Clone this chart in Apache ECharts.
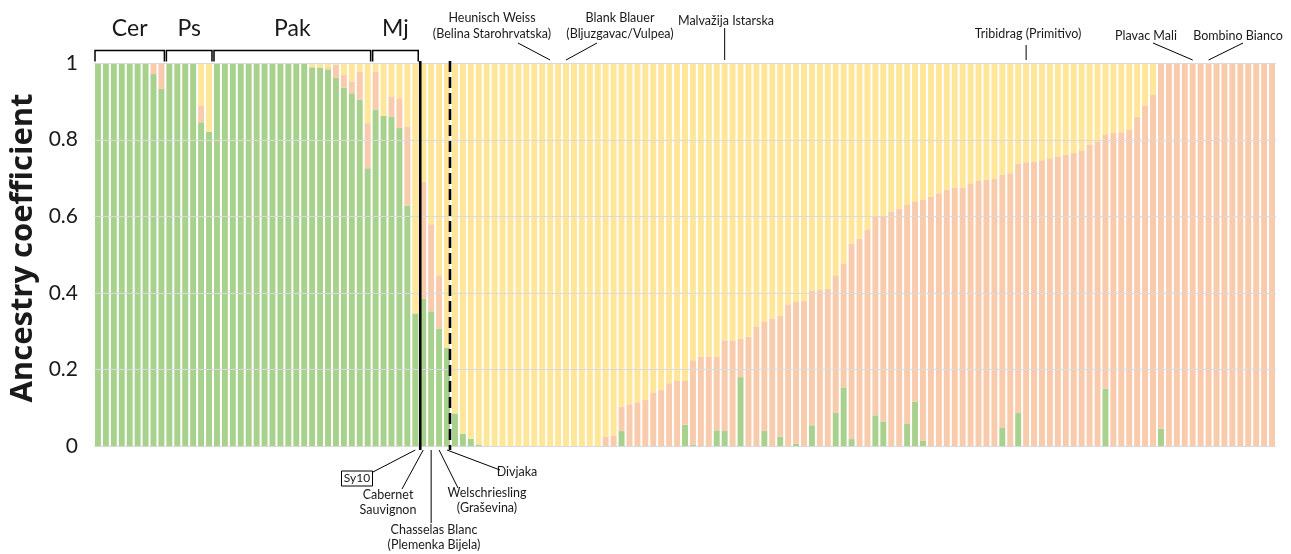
<!DOCTYPE html>
<html>
<head>
<meta charset="utf-8">
<script src="https://cdn.jsdelivr.net/npm/echarts/dist/echarts.min.js"></script>
<style>
  html, body { margin: 0; padding: 0; background: #ffffff; }
  #chart { width: 1291px; height: 554px; }
</style>
</head>
<body>
<div id="chart"></div>
<script>
// Ancestry coefficients per accession (three ancestral clusters), 149 accessions.
const greenShare = [
  1, 1, 1, 1, 1, 1, 1, 0.971, 0.932, 1,
  1, 1, 1, 0.845, 0.820, 1, 1, 1, 1, 1,
  1, 1, 1, 1, 1, 1, 1, 0.989, 0.988, 0.982,
  0.961, 0.935, 0.921, 0.904, 0.725, 0.878, 0.862, 0.860, 0.830, 0.628,
  0.346, 0.385, 0.352, 0.307, 0.256, 0.085, 0.032, 0.019, 0.004, 0,
  0, 0, 0, 0, 0, 0, 0, 0, 0, 0,
  0, 0, 0, 0, 0, 0, 0.039, 0, 0, 0,
  0, 0, 0, 0, 0.056, 0.004, 0, 0, 0.041, 0.039,
  0, 0.18, 0, 0, 0.039, 0, 0.024, 0, 0.006, 0,
  0.054, 0, 0, 0.086, 0.153, 0.018, 0, 0, 0.08, 0.064,
  0, 0, 0.059, 0.116, 0.013, 0, 0, 0, 0, 0,
  0, 0, 0, 0, 0.047, 0, 0.086, 0, 0, 0,
  0, 0, 0, 0, 0, 0, 0, 0.15, 0, 0,
  0, 0, 0, 0, 0.045, 0, 0, 0, 0, 0,
  0, 0, 0, 0, 0, 0, 0, 0, 0
];
const pinkShare = [
  0, 0, 0, 0, 0, 0, 0, 0.029, 0.068, 0,
  0, 0, 0, 0.043, 0, 0, 0, 0, 0, 0,
  0, 0, 0, 0, 0, 0, 0, 0, 0, 0.005,
  0.034, 0.034, 0.031, 0.074, 0.118, 0.100, 0, 0.053, 0.078, 0.206,
  0, 0.305, 0.227, 0.139, 0, 0, 0, 0, 0, 0,
  0, 0, 0, 0, 0, 0, 0, 0, 0, 0,
  0, 0, 0, 0, 0.024, 0.028, 0.064, 0.109, 0.114, 0.120,
  0.140, 0.146, 0.164, 0.170, 0.114, 0.220, 0.233, 0.233, 0.192, 0.237,
  0.276, 0.100, 0.285, 0.311, 0.285, 0.333, 0.316, 0.370, 0.370, 0.380,
  0.351, 0.407, 0.410, 0.360, 0.324, 0.511, 0.542, 0.564, 0.519, 0.536,
  0.612, 0.620, 0.570, 0.521, 0.629, 0.651, 0.660, 0.669, 0.675, 0.675,
  0.686, 0.692, 0.695, 0.697, 0.661, 0.712, 0.650, 0.741, 0.742, 0.746,
  0.751, 0.755, 0.760, 0.765, 0.772, 0.786, 0.796, 0.662, 0.817, 0.819,
  0.825, 0.860, 0.890, 0.917, 0.955, 1, 1, 1, 1, 1,
  1, 1, 1, 1, 1, 1, 1, 1, 1
];
const yellowShare = [
  0, 0, 0, 0, 0, 0, 0, 0, 0, 0,
  0, 0, 0, 0.112, 0.180, 0, 0, 0, 0, 0,
  0, 0, 0, 0, 0, 0, 0, 0.011, 0.012, 0.013,
  0.005, 0.031, 0.048, 0.022, 0.157, 0.022, 0.138, 0.087, 0.092, 0.166,
  0.654, 0.310, 0.421, 0.554, 0.744, 0.915, 0.968, 0.981, 0.996, 1,
  1, 1, 1, 1, 1, 1, 1, 1, 1, 1,
  1, 1, 1, 1, 0.976, 0.972, 0.897, 0.891, 0.886, 0.880,
  0.860, 0.854, 0.836, 0.830, 0.830, 0.776, 0.767, 0.767, 0.767, 0.724,
  0.724, 0.720, 0.715, 0.689, 0.676, 0.667, 0.660, 0.630, 0.624, 0.620,
  0.595, 0.593, 0.590, 0.554, 0.523, 0.471, 0.458, 0.436, 0.401, 0.400,
  0.388, 0.380, 0.371, 0.363, 0.358, 0.349, 0.340, 0.331, 0.325, 0.325,
  0.314, 0.308, 0.305, 0.303, 0.292, 0.288, 0.264, 0.259, 0.258, 0.254,
  0.249, 0.245, 0.240, 0.235, 0.228, 0.214, 0.204, 0.188, 0.183, 0.181,
  0.175, 0.140, 0.110, 0.083, 0, 0, 0, 0, 0, 0,
  0, 0, 0, 0, 0, 0, 0, 0, 0
];
const sampleIds = greenShare.map((_, i) => 'S' + (i + 1));
const yTicks = [0, 0.2, 0.4, 0.6, 0.8, 1];

// Population groups (first/last accession index)
const groups = [
  { name: 'Cer', from: 0, to: 8 },
  { name: 'Ps', from: 9, to: 14 },
  { name: 'Pak', from: 15, to: 34 },
  { name: 'Mj', from: 35, to: 40 }
];
const solidAfter = 40;
const dashedAfter = 44;

const topNotes = [
  { lines: ['Heunisch Weiss', '(Belina Starohrvatska)'], bar: 57 },
  { lines: ['Blank Blauer', '(Bljuzgavac/Vulpea)'], bar: 59 },
  { lines: ['Malvažija Istarska'], bar: 79 },
  { lines: ['Tribidrag (Primitivo)'], bar: 117 },
  { lines: ['Plavac Mali'], bar: 138 },
  { lines: ['Bombino Bianco'], bar: 140 }
];
const bottomNotes = [
  { lines: ['Sy10'], bar: 40, boxed: true },
  { lines: ['Cabernet', 'Sauvignon'], bar: 41 },
  { lines: ['Chasselas Blanc', '(Plemenka Bijela)'], bar: 42 },
  { lines: ['Welschriesling', '(Graševina)'], bar: 43 },
  { lines: ['Divjaka'], bar: 44 }
];

// Placement of note text blocks: text centre x, first-line y, leader start point
const topLayout = [
  { tx: 492, ty: 18, lx: 518, ly: 43 },
  { tx: 620, ty: 18, lx: 597, ly: 43 },
  { tx: 726, ty: 21, lx: null, ly: 28 },
  { tx: 1028, ty: 34, lx: null, ly: 45 },
  { tx: 1146, ty: 36, lx: 1153, ly: 43 },
  { tx: 1238, ty: 36, lx: 1243, ly: 43 }
];
const bottomLayout = [
  { tx: 357, ty: 478.5, lx: 373, ly: 472 },
  { tx: 388, ty: 495, lx: 402, ly: 489 },
  { tx: 434, ty: 530, lx: null, ly: 523 },
  { tx: 487, ty: 493, lx: 458, ly: 488 },
  { tx: 517, ty: 471.5, lx: 500, ly: 470 }
];

const FONT = 'Lato, "Open Sans", sans-serif';
const TITLE_FONT = '"Open Sans", "Noto Sans", sans-serif';
const colors = { green: '#a9d18e', pink: '#f8cbad', yellow: '#ffe699' };

const chart = echarts.init(document.getElementById('chart'), null, { renderer: 'canvas' });

function barSeries(name, data, color) {
  return {
    name: name,
    type: 'bar',
    stack: 'ancestry',
    data: data,
    barCategoryGap: '25%',
    itemStyle: { color: color },
    silent: true,
    animation: false
  };
}

chart.setOption({
  animation: false,
  grid: { left: 94, right: 15, top: 63, bottom: 108, containLabel: false },
  xAxis: {
    type: 'category',
    data: sampleIds,
    axisLine: { show: false },
    axisTick: { show: false },
    axisLabel: { show: false },
    splitLine: { show: false }
  },
  yAxis: {
    type: 'value',
    min: 0,
    max: 1,
    interval: 0.2,
    axisLine: { show: false },
    axisTick: { show: false },
    splitLine: { show: false },
    axisLabel: {
      margin: 16,
      fontSize: 21,
      fontFamily: FONT,
      color: '#1a1a1a',
      formatter: v => (yTicks.includes(Math.round(v * 10) / 10) ? String(Math.round(v * 10) / 10) : '')
    }
  },
  series: [
    barSeries('Cluster 1', greenShare, colors.green),
    barSeries('Cluster 2', pinkShare, colors.pink),
    barSeries('Cluster 3', yellowShare, colors.yellow)
  ]
});

// Overlay: gridlines, separators, group brackets and variety labels
const px = i => chart.convertToPixel({ xAxisIndex: 0 }, i);
const py = v => chart.convertToPixel({ yAxisIndex: 0 }, v);
const slot = px(1) - px(0);
const plotLeft = px(0) - slot / 2;
const plotRight = px(sampleIds.length - 1) + slot / 2;
const plotTop = py(1);
const plotBottom = py(0);

const g = [];
const textStyle = (text, size, weight, family) => ({
  text: text,
  fontSize: size,
  fontFamily: family || FONT,
  fontWeight: weight || 'normal',
  fill: '#1a1a1a',
  align: 'center',
  verticalAlign: 'middle'
});

yTicks.forEach(t => {
  const y = Math.round(py(t)) + 0.5;
  g.push({ type: 'line', z: 50, silent: true,
    shape: { x1: plotLeft, y1: y, x2: plotRight, y2: y },
    style: { stroke: '#dadada', lineWidth: 1 } });
});

const boundary = i => px(i) + slot / 2;
g.push({ type: 'line', z: 60, silent: true,
  shape: { x1: boundary(solidAfter) + 1, y1: plotTop - 2, x2: boundary(solidAfter) + 1, y2: plotBottom + 4 },
  style: { stroke: '#000', lineWidth: 2.6 } });
g.push({ type: 'line', z: 60, silent: true,
  shape: { x1: boundary(dashedAfter) - 1, y1: plotTop - 2, x2: boundary(dashedAfter) - 1, y2: plotBottom + 4 },
  style: { stroke: '#000', lineWidth: 2.6, lineDash: [11, 5] } });

groups.forEach(gr => {
  const x1 = px(gr.from) - slot / 2 + 1;
  const x2 = px(gr.to) + slot / 2 - 1;
  g.push({ type: 'polyline', z: 60, silent: true,
    shape: { points: [[x1, 61.5], [x1, 50.5], [x2, 50.5], [x2, 61.5]] },
    style: { stroke: '#000', lineWidth: 1.5, fill: null } });
  g.push({ type: 'text', z: 60, silent: true, x: (x1 + x2) / 2, y: 29,
    style: textStyle(gr.name, 23) });
});

topNotes.forEach((n, k) => {
  const L = topLayout[k];
  n.lines.forEach((line, j) => {
    g.push({ type: 'text', z: 60, silent: true, x: L.tx, y: L.ty + j * 16,
      style: textStyle(line, 12.5) });
  });
  const bx = px(n.bar);
  g.push({ type: 'line', z: 60, silent: true,
    shape: { x1: L.lx === null ? bx : L.lx, y1: L.ly, x2: bx, y2: plotTop - 3 },
    style: { stroke: '#000', lineWidth: 1 } });
});

bottomNotes.forEach((n, k) => {
  const L = bottomLayout[k];
  n.lines.forEach((line, j) => {
    g.push({ type: 'text', z: 60, silent: true, x: L.tx, y: L.ty + j * 14.5,
      style: textStyle(line, n.boxed ? 12 : 12.5) });
  });
  if (n.boxed) {
    g.push({ type: 'rect', z: 60, silent: true,
      shape: { x: L.tx - 15.5, y: L.ty - 7.5, width: 31, height: 15 },
      style: { fill: null, stroke: '#000', lineWidth: 1 } });
  }
  const bx = px(n.bar);
  g.push({ type: 'line', z: 60, silent: true,
    shape: { x1: L.lx === null ? bx : L.lx, y1: L.ly, x2: bx, y2: plotBottom + 4 },
    style: { stroke: '#000', lineWidth: 1 } });
});

g.push({ type: 'text', z: 60, silent: true, x: 23, y: 248, rotation: Math.PI / 2,
  style: textStyle('Ancestry coefficient', 31, 'bold', TITLE_FONT) });

chart.setOption({ graphic: g });
</script>
</body>
</html>
